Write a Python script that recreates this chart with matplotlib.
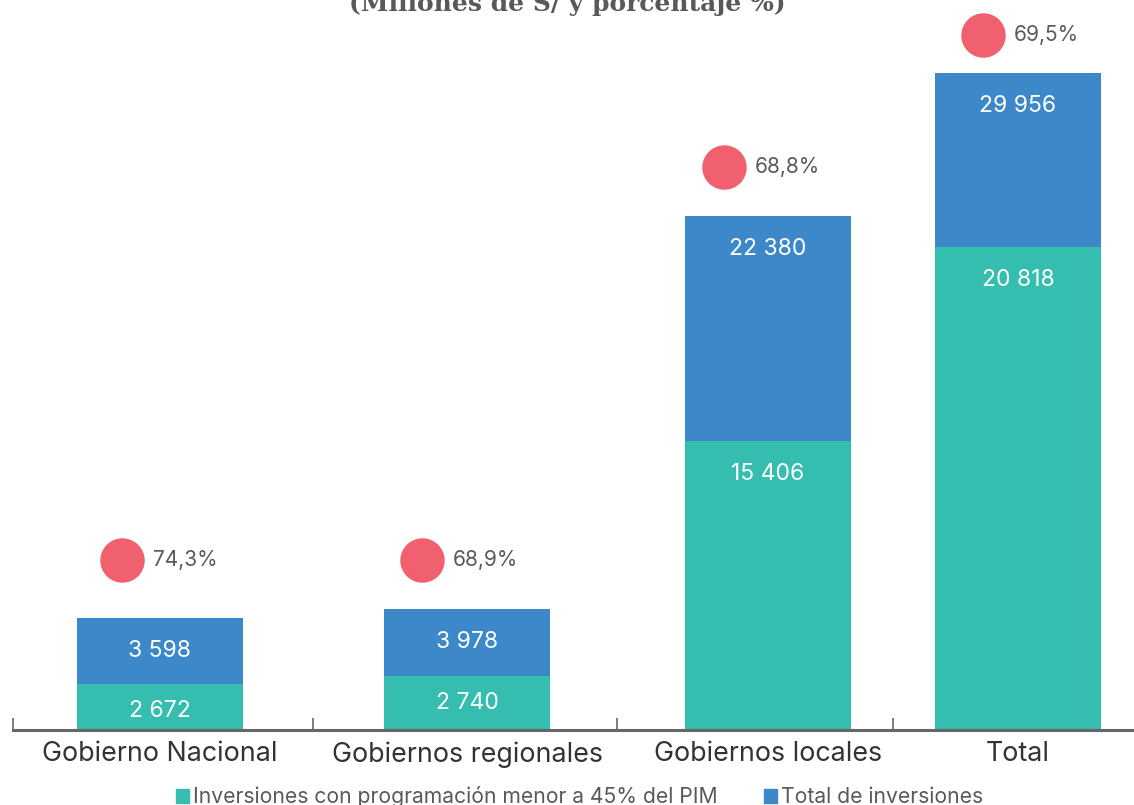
import matplotlib
matplotlib.use("Agg")
import matplotlib.pyplot as plt
from matplotlib.patches import Patch

# data
categorias = ["Gobierno Nacional", "Gobiernos regionales", "Gobiernos locales", "Total"]
inv_menor45 = [2672, 2740, 15406, 20818]
inv_total = [3598, 3978, 22380, 29956]
porcentaje = [74.3, 68.9, 68.8, 69.5]
# the source graphic is not drawn to scale: segment lengths as read off it
alto_verde = [46, 54, 289, 483]
alto_azul = [66, 67, 225, 174]

VERDE = "#35BDAF"
AZUL = "#3D88C8"
ROJO = "#F0606E"
GRIS = "#595959"

plt.rcParams["font.family"] = ["Inter", "DejaVu Sans"]

fig = plt.figure(figsize=(11.34, 8.05), dpi=100)
ax = fig.add_axes([0, 0, 1, 1])
ax.set_xlim(0, 1134)
ax.set_ylim(-75, 730)

# layout
centros = [160, 467, 768, 1018]
limites = [13, 313, 617, 893]
ancho = 166
dx_circ = [-38, -45, -44, -35]
dy_circ = [58, 49, 49, 38]

ax.bar(centros, alto_verde, width=ancho, color=VERDE)
ax.bar(centros, alto_azul, width=ancho, bottom=alto_verde, color=AZUL)

def fmt(v):
    return f"{v:,}".replace(",", " ")

for i in range(len(centros)):
    top_v = alto_verde[i]
    top_a = alto_verde[i] + alto_azul[i]
    yv = top_v - 33 if alto_verde[i] > 100 else top_v - 27
    ax.text(centros[i], yv, fmt(inv_menor45[i]), ha="center", va="center",
            color="white", fontsize=16.5)
    ax.text(centros[i], top_a - 33, fmt(inv_total[i]), ha="center", va="center",
            color="white", fontsize=16.5)
    cx = centros[i] + dx_circ[i]
    cy = top_a + dy_circ[i]
    ax.plot(cx, cy, "o", ms=32, color=ROJO, mec="none")
    ax.text(cx + 31, cy, f"{porcentaje[i]:.1f}%".replace(".", ","), ha="left",
            va="center", color=GRIS, fontsize=15)

for s in ["top", "right", "left"]:
    ax.spines[s].set_visible(False)
ax.spines["bottom"].set_position(("data", 0))
ax.spines["bottom"].set_bounds(13, 1134)
ax.spines["bottom"].set_color("#666666")
ax.spines["bottom"].set_linewidth(2.2)
ax.set_yticks([])
ax.set_xticks(limites)
ax.set_xticklabels([])
ax.tick_params(axis="x", which="major", direction="in", length=9, width=1.2,
               color="#666666")
ax.set_xticks(centros, minor=True)
ax.set_xticklabels(categorias, minor=True, fontsize=19.3, color="#333333")
ax.tick_params(axis="x", which="minor", length=0, pad=8)

fig.text(0.5, 0.9865, "(Millones de S/ y porcentaje %)", ha="center", va="baseline",
         family="DejaVu Serif", fontweight="bold", fontsize=18, color=GRIS)

handles = [Patch(color=VERDE), Patch(color=AZUL)]
fig.legend(handles, ["Inversiones con programación menor a 45% del PIM", "Total de inversiones"],
           loc="center", bbox_to_anchor=(0.511, 0.01), ncol=2, frameon=False,
           fontsize=15.2, handlelength=0.6, handleheight=0.6, handletextpad=0.2,
           columnspacing=2.2, labelcolor=GRIS)

fig.savefig("out.png", dpi=100)
